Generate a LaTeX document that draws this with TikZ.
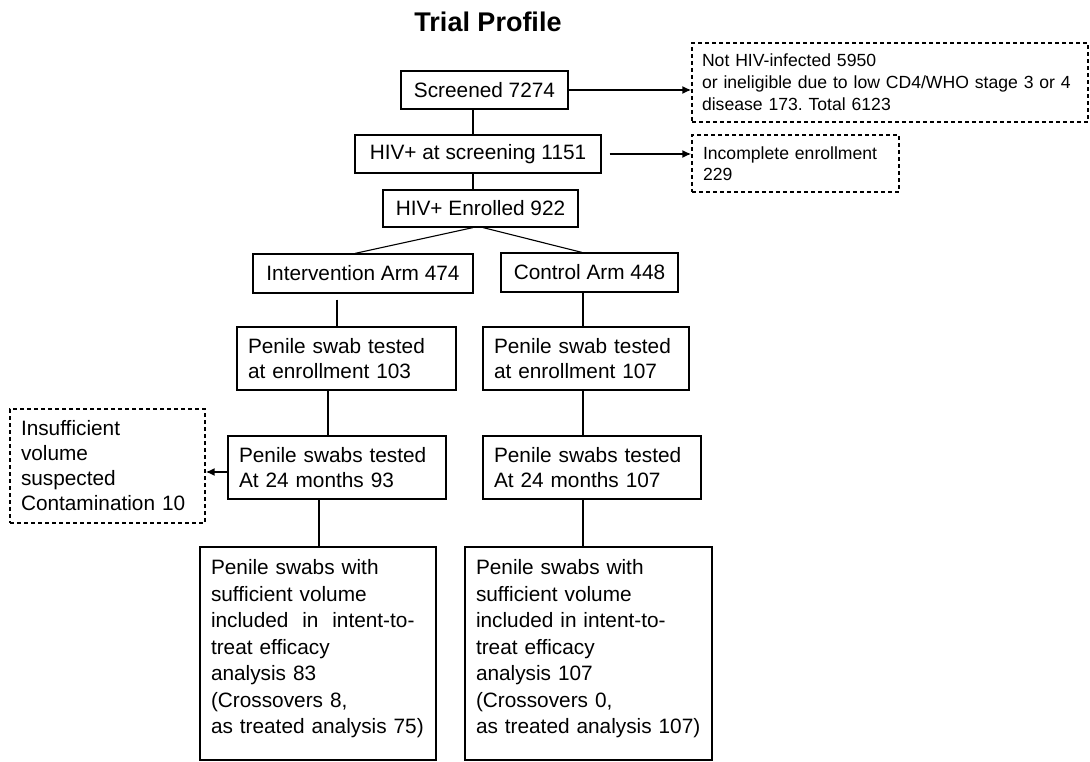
\documentclass[tikz,border=0pt]{standalone}
\usepackage{fontspec}
\setmainfont{Liberation Sans}
\usetikzlibrary{arrows.meta}
\frenchspacing

\begin{document}
\begin{tikzpicture}[x = 1pt, y = -1pt, font = \fontsize{20.8}{25.5}\selectfont]
	\tikzstyle{boxStyle}=[draw, line width = 1.2pt, inner sep = 0pt]
	\tikzstyle{textBoxStyle}=[boxStyle, align = left, inner xsep = 11pt]
	\tikzstyle{dashedStyle}=[textBoxStyle, dash pattern = on 4pt off 3pt]
	\tikzstyle{lineStyle}=[line width = 1.1pt]
	\tikzstyle{arrowStyle}=[line width = 1.8pt, -{Latex[length = 9pt, width = 8pt]}]
	\useasboundingbox (0,0) rectangle (1090,762);
	\node[font = \fontsize{27}{30}\selectfont\bfseries] (title) at (488,22) {Trial Profile};
	\node[boxStyle, minimum width = 167pt, minimum height = 38pt] (screened) at (484.5,90) {Screened 7274};
	\node[boxStyle, minimum width = 246pt, minimum height = 38pt] (hivscr) at (478,154) {HIV+ at screening 1151};
	\node[boxStyle, minimum width = 195pt, minimum height = 37pt] (enrolled) at (480.5,208.5) {HIV+ Enrolled 922};
	\node[dashedStyle, inner xsep = 10pt, text width = 376pt, minimum height = 79pt, font = \fontsize{17.6}{22}\selectfont] (notinf) at (890,82.5)
		{Not HIV-infected 5950\\or ineligible due to low CD4/WHO stage 3 or~4\\disease 173. Total 6123};
	\node[dashedStyle, text width = 185pt, minimum height = 57pt, font = \fontsize{17.6}{21}\selectfont] (incompl) at (795.5,163.5)
		{Incomplete enrollment\\229};
	\node[boxStyle, minimum width = 220pt, minimum height = 39pt] (interv) at (363,273.5) {Intervention Arm 474};
	\node[boxStyle, minimum width = 177pt, minimum height = 39pt] (control) at (589.5,272.5) {Control Arm 448};
	\node[textBoxStyle, text width = 197pt, minimum height = 63pt] (swabI) at (346.5,358.5) {Penile swab tested\\at enrollment 103};
	\node[textBoxStyle, text width = 184pt, minimum height = 63pt] (swabC) at (586,358.5) {Penile swab tested\\at enrollment 107};
	\node[textBoxStyle, text width = 196pt, minimum height = 63pt] (monthsI) at (337,467.5) {Penile swabs tested\\At 24 months 93};
	\node[textBoxStyle, text width = 196pt, minimum height = 63pt] (monthsC) at (592,467.5) {Penile swabs tested\\At 24 months 107};
	\node[dashedStyle, text width = 173pt, minimum height = 114pt, font = \fontsize{20.8}{25}\selectfont] (insuff) at (107.5,466)
		{Insufficient\\volume\\suspected\\Contamination 10};
	\node[textBoxStyle, text width = 214pt, minimum height = 213pt, font = \fontsize{20.8}{26.5}\selectfont] (finalI) at (318,653.5)
		{Penile swabs with\\sufficient volume\\included \ in \ intent-to-\\treat efficacy\\analysis 83\\(Crossovers 8,\\as treated analysis 75)\rule[-14pt]{0pt}{14pt}};
	\node[textBoxStyle, text width = 225pt, minimum height = 213pt, font = \fontsize{20.8}{26.5}\selectfont] (finalC) at (588.5,653.5)
		{Penile swabs with\\sufficient volume\\included in intent-to-\\treat efficacy\\analysis 107\\(Crossovers 0,\\as treated analysis 107)\rule[-14pt]{0pt}{14pt}};
	\draw[lineStyle] ([xshift = -11.5]screened.south) -- ([xshift = -5]hivscr.north);
	\draw[lineStyle] ([xshift = -5]hivscr.south) -- ([xshift = -7.5]enrolled.north);
	\draw[lineStyle] ([xshift = -7.5]enrolled.south) -- ([xshift = -8]interv.north);
	\draw[lineStyle] ([xshift = 2.5]enrolled.south) -- ([xshift = -7.5]control.north);
	\draw[lineStyle] ([xshift = -26, yshift = -6]interv.south) -- ([xshift = -9.5]swabI.north);
	\draw[lineStyle] ([xshift = -6.5]control.south) -- ([xshift = -3]swabC.north);
	\draw[lineStyle] ([xshift = -18.5]swabI.south) -- ([xshift = -9]monthsI.north);
	\draw[lineStyle] ([xshift = -3]swabC.south) -- ([xshift = -9]monthsC.north);
	\draw[lineStyle] ([xshift = -18]monthsI.south) -- ([xshift = 1]finalI.north);
	\draw[lineStyle] ([xshift = -9]monthsC.south) -- ([xshift = -5.5]finalC.north);
	\draw[arrowStyle] (screened.east) -- (notinf.west |- screened.east);
	\draw[arrowStyle] ([xshift = 8]hivscr.east) -- (incompl.west |- hivscr.east);
	\draw[arrowStyle] ([yshift = -4.5]monthsI.west) -- ([yshift = -6]insuff.east);
\end{tikzpicture}
\end{document}
